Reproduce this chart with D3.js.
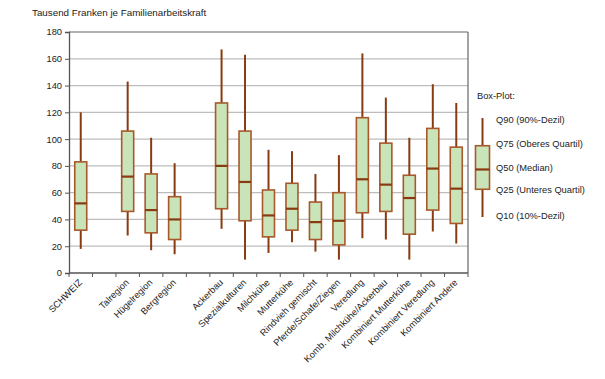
<!DOCTYPE html>
<html><head><meta charset="utf-8">
<script src="https://cdn.jsdelivr.net/npm/d3@7"></script>
<style>body{margin:0;background:#fff;font-family:"Liberation Sans",Arial,sans-serif;}</style>
</head><body><svg id="c" width="605" height="379"></svg>
<script>
const categories = ["SCHWEIZ","","Talregion","Hügelregion","Bergregion","","Ackerbau","Spezialkulturen","Milchkühe","Mutterkühe","Rindvieh gemischt","Pferde/Schafe/Ziegen","Veredlung","Komb. Milchkühe/Ackerbau","Kombiniert Mutterkühe","Kombiniert Veredlung","Kombiniert Andere"];
const q10 = [18,null,28,17,14,null,33,10,15,23,16,10,26,25,10,31,22];
const q25 = [32,null,46,30,25,null,48,39,27,32,25,21,45,46,29,47,37];
const q50 = [52,null,72,47,40,null,80,68,43,48,38,39,70,66,56,78,63];
const q75 = [83,null,106,74,57,null,127,106,62,67,53,60,116,97,73,108,94];
const q90 = [120,null,143,101,82,null,167,163,92,91,74,88,164,131,101,141,127];
const yTicks = [0,20,40,60,80,100,120,140,160,180];
const legendLabels = ["Q90 (90%-Dezil)","Q75 (Oberes Quartil)","Q50 (Median)","Q25 (Unteres Quartil)","Q10 (10%-Dezil)"];
const legendValues = [116,95,77,62,41];

const svg = d3.select("#c");
const L=69, R=468, T=32, B=273;
const x = d3.scaleBand().domain(d3.range(categories.length)).range([L,R]).padding(0);
const y = d3.scaleLinear().domain([0,180]).range([B,T]);
const whisk="#8a3a10", boxStroke="#a8582a", fill="#c9e4b9";

svg.append("text").attr("x",32).attr("y",16).attr("font-size",9.8).attr("fill","#222").text("Tausend Franken je Familienarbeitskraft");

// grid
svg.append("g").selectAll("line").data(yTicks.filter(d=>d>0)).join("line")
  .attr("x1",L).attr("x2",R).attr("y1",d=>y(d)).attr("y2",d=>y(d))
  .attr("stroke",d=>d===180?"#666":"#bdbdbd").attr("stroke-width",1.2);
svg.append("line").attr("x1",R).attr("x2",R).attr("y1",T).attr("y2",B).attr("stroke","#666").attr("stroke-width",1.2);

// axes
const ya = svg.append("g").attr("transform",`translate(${L},0)`)
  .call(d3.axisLeft(y).tickValues(yTicks).tickSize(4).tickPadding(3));
ya.select(".domain").attr("stroke","#555").attr("stroke-width",1.3);
ya.selectAll(".tick line").attr("stroke","#555");
ya.selectAll("text").attr("font-size",9.3).attr("fill","#222").attr("font-family","Liberation Sans, Arial");

const xa = svg.append("g").attr("transform",`translate(0,${B})`);
xa.append("line").attr("x1",L).attr("x2",R).attr("stroke","#555").attr("stroke-width",1.3);
xa.selectAll("line.t").data(d3.range(categories.length+1)).join("line").attr("class","t")
  .attr("x1",i=>L+i*x.bandwidth()).attr("x2",i=>L+i*x.bandwidth()).attr("y1",0).attr("y2",4).attr("stroke","#555");
xa.selectAll("text").data(categories).join("text")
  .attr("transform",(d,i)=>`translate(${x(i)+x.bandwidth()/2+2},${10}) rotate(-45)`)
  .attr("text-anchor","end").attr("font-size",9.3).attr("fill","#222").text(d=>d);

// boxes
const bw = 12;
const data = categories.map((c,i)=>({i,q10:q10[i],q25:q25[i],q50:q50[i],q75:q75[i],q90:q90[i]})).filter(d=>d.q50!=null);
const g = svg.append("g");
const cx = d=>x(d.i)+x.bandwidth()/2;
g.selectAll("line.w").data(data).join("line").attr("class","w")
  .attr("x1",cx).attr("x2",cx).attr("y1",d=>y(d.q10)).attr("y2",d=>y(d.q90))
  .attr("stroke",whisk).attr("stroke-width",2);
g.selectAll("rect").data(data).join("rect")
  .attr("x",d=>cx(d)-bw/2).attr("width",bw).attr("y",d=>y(d.q75)).attr("height",d=>y(d.q25)-y(d.q75))
  .attr("fill",fill).attr("stroke",boxStroke).attr("stroke-width",1.6);
g.selectAll("line.m").data(data).join("line").attr("class","m")
  .attr("x1",d=>cx(d)-bw/2).attr("x2",d=>cx(d)+bw/2).attr("y1",d=>y(d.q50)).attr("y2",d=>y(d.q50))
  .attr("stroke",whisk).attr("stroke-width",2.2);

// legend
const ly = d3.scaleLinear().domain([41,116]).range([217,118]);
const lg = svg.append("g");
const lcx = 482.5;
lg.append("text").attr("x",477).attr("y",99).attr("font-size",9.3).attr("fill","#222").text("Box-Plot:");
lg.append("line").attr("x1",lcx).attr("x2",lcx).attr("y1",ly(legendValues[4])).attr("y2",ly(legendValues[0])).attr("stroke",whisk).attr("stroke-width",2);
lg.append("rect").attr("x",lcx-7).attr("width",14).attr("y",ly(legendValues[1])).attr("height",ly(legendValues[3])-ly(legendValues[1]))
  .attr("fill",fill).attr("stroke",boxStroke).attr("stroke-width",1.6);
lg.append("line").attr("x1",lcx-7).attr("x2",lcx+7).attr("y1",ly(legendValues[2])).attr("y2",ly(legendValues[2])).attr("stroke",whisk).attr("stroke-width",2.2);
const labelY = [120,144,168,190,216];
lg.selectAll("text.l").data(legendLabels).join("text").attr("class","l")
  .attr("x",496).attr("y",(d,i)=>labelY[i]+3).attr("font-size",9.3).attr("fill","#222").text(d=>d);
</script></body></html>
